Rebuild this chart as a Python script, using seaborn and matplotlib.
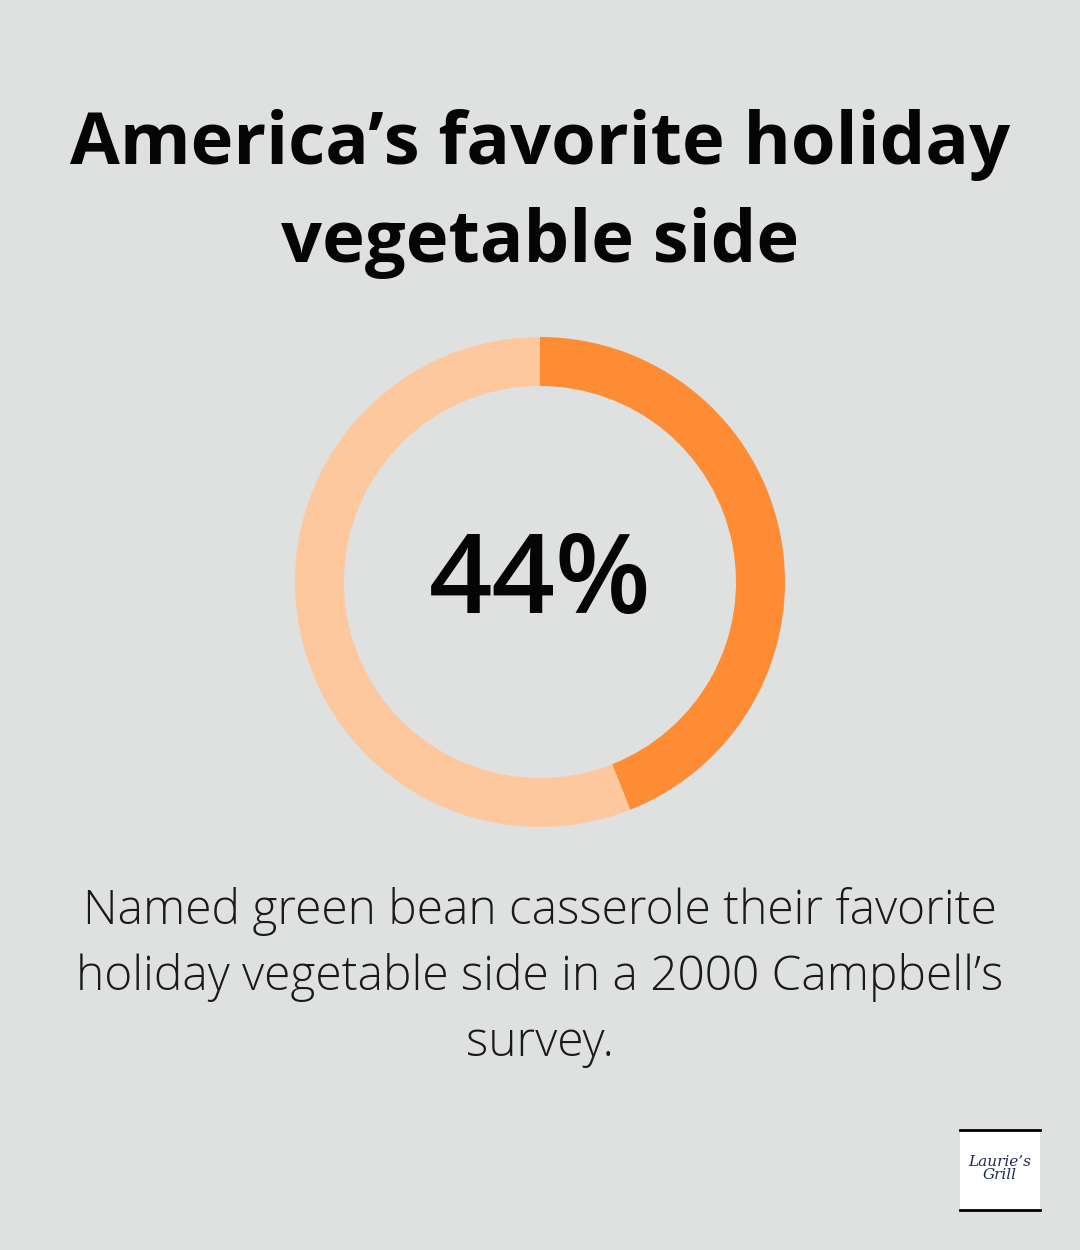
import matplotlib
matplotlib.use("Agg")
import matplotlib.pyplot as plt
import seaborn as sns

# data
labels = ["Green bean casserole", "Other"]
shares = [44, 56]
ring_colors = ["#fe8c35", "#fec89e"]

title = "America\u2019s favorite holiday\nvegetable side"
big_number = "44%"
caption = "Named green bean casserole their favorite\nholiday vegetable side in a 2000 Campbell\u2019s\nsurvey."

bg = "#dfe1e0"

sns.set_theme(style="white")
plt.rcParams["font.family"] = ["Open Sans", "DejaVu Sans"]

fig = plt.figure(figsize=(10.8, 12.5), dpi=100, facecolor=bg)

# title
fig.text(0.5, 1 - 145 / 1250, title.split("\n")[0], ha="center", va="center",
         fontsize=52, fontweight="bold", color="#050505")
fig.text(0.5, 1 - 243 / 1250, title.split("\n")[1], ha="center", va="center",
         fontsize=52, fontweight="bold", color="#050505")

# donut ring
ax = fig.add_axes([295 / 1080, 1 - 827 / 1250, 490 / 1080, 490 / 1250])
ax.set_facecolor(bg)
ax.pie(shares, colors=ring_colors, startangle=90, counterclock=False,
       radius=1.0, wedgeprops=dict(width=0.2, edgecolor="none"))
ax.set_xlim(-1, 1)
ax.set_ylim(-1, 1)
ax.set_aspect("equal")
ax.axis("off")
ax.text(0, -0.01, big_number, ha="center", va="center", fontsize=80,
        fontweight="semibold", color="#050505")

# caption
for i, line in enumerate(caption.split("\n")):
    fig.text(0.5, 1 - (912 + i * 66) / 1250, line, ha="center", va="center",
             fontsize=34.5, fontweight="light", color="#1a1a1a")

# small logo
lax = fig.add_axes([960 / 1080, 1 - 1210 / 1250, 80 / 1080, 80 / 1250])
lax.set_facecolor("white")
lax.set_xlim(0, 1)
lax.set_ylim(0, 1)
lax.set_xticks([])
lax.set_yticks([])
for side in ["left", "right"]:
    lax.spines[side].set_visible(False)
for side in ["top", "bottom"]:
    lax.spines[side].set_visible(True)
    lax.spines[side].set_color("black")
    lax.spines[side].set_linewidth(2)
lax.text(0.5, 0.52, "Laurie\u2019s\nGrill", ha="center", va="center",
         fontsize=11, fontstyle="italic", family="DejaVu Serif",
         color="#1f2a55", linespacing=0.85)

fig.savefig("out.png", dpi=100, facecolor=bg)
